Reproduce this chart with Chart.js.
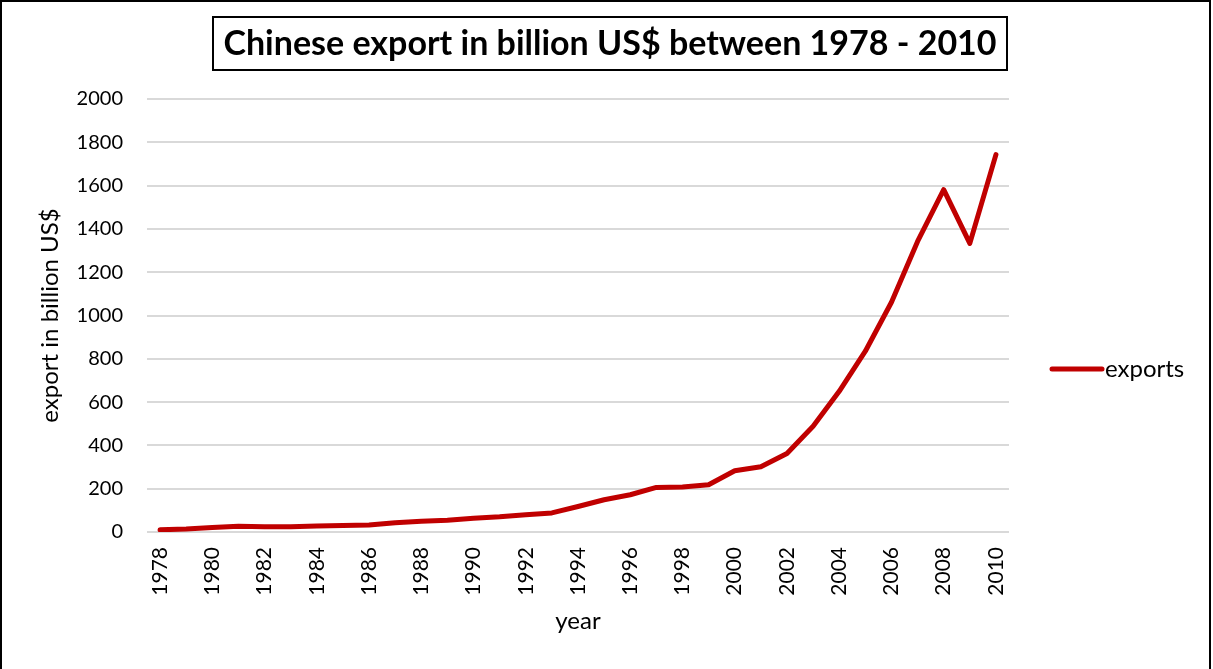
<!DOCTYPE html>
<html>
<head>
<meta charset="utf-8">
<script src="https://cdn.jsdelivr.net/npm/chart.js@4.4.1/dist/chart.umd.min.js"></script>
<style>
  html, body { margin: 0; padding: 0; background: #fff; }
  #wrap { position: relative; width: 1213px; height: 669px; }
</style>
</head>
<body>
<div id="wrap"><canvas id="exportChart" width="1213" height="669"></canvas></div>
<script>
const years = ['1978','1979','1980','1981','1982','1983','1984','1985','1986','1987','1988',
  '1989','1990','1991','1992','1993','1994','1995','1996','1997','1998','1999','2000',
  '2001','2002','2003','2004','2005','2006','2007','2008','2009','2010'];
const exports = [10,14,21,26,24,24,28,30,32,43,50,54,63,70,80,88,118,149,172,206,208,218,
  283,301,363,488,650,835,1061,1342,1581,1333,1743];
const titleText = 'Chinese export in billion US$ between 1978 - 2010';
const yTitle = 'export in billion US$';
const xTitle = 'year';
const seriesName = 'exports';

const FONT = 'Lato, "Open Sans", sans-serif';
const RED = '#c00000';

// title box, side legend and the outer frame
const decorations = {
  id: 'decorations',
  afterDraw(chart) {
    const ctx = chart.ctx;
    ctx.save();
    // frame
    ctx.strokeStyle = '#000';
    ctx.lineWidth = 2;
    ctx.beginPath();
    ctx.moveTo(1, 669);
    ctx.lineTo(1, 1);
    ctx.lineTo(1210, 1);
    ctx.lineTo(1210, 669);
    ctx.stroke();

    // title with its border
    ctx.strokeRect(213, 17, 794, 53);
    ctx.fillStyle = '#000';
    ctx.font = 'bold 34px ' + FONT;
    ctx.textAlign = 'center';
    ctx.textBaseline = 'middle';
    ctx.fillText(titleText, 610, 44);

    // legend
    const ds = chart.data.datasets[0];
    ctx.strokeStyle = ds.borderColor;
    ctx.lineWidth = 5;
    ctx.lineCap = 'round';
    ctx.beginPath();
    ctx.moveTo(1052, 369);
    ctx.lineTo(1102, 369);
    ctx.stroke();
    ctx.font = '24px ' + FONT;
    ctx.textAlign = 'left';
    ctx.fillText(ds.label, 1105, 369);
    ctx.restore();
  }
};

new Chart(document.getElementById('exportChart'), {
  type: 'line',
  data: {
    labels: years,
    datasets: [{
      label: seriesName,
      data: exports,
      borderColor: RED,
      backgroundColor: RED,
      borderWidth: 5,
      pointRadius: 0,
      tension: 0,
      borderJoinStyle: 'round',
      borderCapStyle: 'round'
    }]
  },
  options: {
    responsive: false,
    animation: false,
    devicePixelRatio: 1,
    layout: { padding: { top: 99, right: 204, bottom: 0, left: 0 } },
    scales: {
      x: {
        offset: true,
        afterFit: s => { s.height = 137; },
        grid: { display: false, drawTicks: false },
        border: { display: false },
        ticks: {
          autoSkip: false,
          maxRotation: 90,
          minRotation: 90,
          padding: 15,
          color: '#000',
          font: { family: FONT, size: 21 },
          callback: function (v, i) { return i % 2 === 0 ? this.getLabelForValue(v) : ''; }
        },
        title: {
          display: true,
          text: xTitle,
          color: '#000',
          font: { family: FONT, size: 24 },
          padding: { top: 0, bottom: 33 }
        }
      },
      y: {
        min: 0,
        max: 2000,
        afterFit: s => { s.width = 147; },
        grid: { color: '#d9d9d9', lineWidth: 2, drawTicks: false },
        border: { display: false },
        ticks: {
          stepSize: 200,
          padding: 24,
          color: '#000',
          font: { family: FONT, size: 20 },
          callback: v => String(v)
        },
        title: {
          display: true,
          text: yTitle,
          color: '#000',
          font: { family: FONT, size: 24 },
          padding: { top: 36, bottom: 0 }
        }
      }
    },
    plugins: {
      legend: { display: false },
      title: { display: false },
      tooltip: { enabled: false }
    }
  },
  plugins: [decorations]
});
</script>
</body>
</html>
